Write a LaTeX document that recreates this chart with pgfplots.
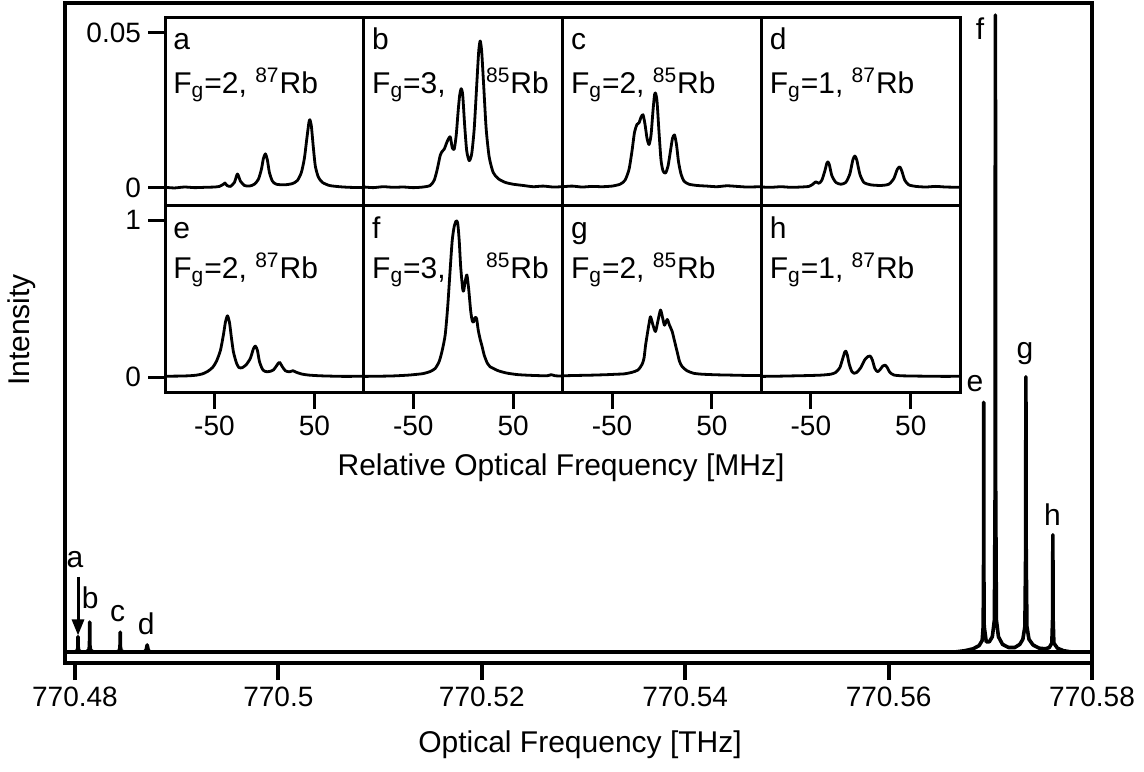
\documentclass[border=0pt]{standalone}
\usepackage{fontspec}
\setmainfont{Liberation Sans}
\usepackage{pgfplots}
\pgfplotsset{compat=1.18}
\usetikzlibrary{arrows.meta}

\pgfplotsset{
  inset/.style={
    scale only axis, width=99.4pt, height=93.5pt,
    xmin=-99.5, xmax=99.5,
    axis line style={line width=1.5pt},
    tick align=outside, major tick length=8.5pt,
    tick style={line width=1.5pt, black},
    xtick pos=left, ytick pos=left,
    scaled y ticks=false, scaled x ticks=false,
    axis background/.style={fill=white},
    ticklabel style={font=\fontsize{14}{16}\selectfont},
    no markers, cycle list={{black, solid}},
    every axis plot/.append style={line width=1.4pt, line join=round, smooth, tension=0.4},
  },
  toprow/.style={inset, ymin=-0.0055, ymax=0.0548, xtick=\empty},
  botrow/.style={inset, ymin=-0.0955, ymax=1.096, xtick={-50,50}, xticklabels={-50,50}},
}

\begin{document}
\begin{tikzpicture}
\useasboundingbox (0,0) rectangle (572pt,-385.5pt);

% ---------------- main axis ----------------
\begin{axis}[
  at={(32.5pt,-331.5pt)}, anchor=south west,
  scale only axis, width=513.5pt, height=330pt,
  xmin=-0.98, xmax=100, ymin=-0.0173, ymax=1.019,
  xtick={0,20,40,60,80,100},
  xticklabels={770.48,770.5,770.52,770.54,770.56,770.58},
  ytick=\empty, xtick pos=left, tick align=outside,
  major tick length=8.5pt,
  tick style={line width=2pt, black},
  axis line style={line width=2pt},
  ticklabel style={font=\fontsize{14}{16}\selectfont},
  no markers, cycle list={{black, solid}},
  every axis plot/.append style={line width=1.8pt, line join=round},
]
% baseline (offset from 770.48 THz, in GHz)
\addplot coordinates {(-0.98,0) (100,0)};
% a, b, c, d
\addplot coordinates {(0.0,0) (0.22,0.002) (0.28,0.006) (0.3,0.024) (0.32,0.006) (0.38,0.002) (0.6,0)};
\addplot coordinates {(1.1,0) (1.37,0.003) (1.43,0.010) (1.45,0.047) (1.47,0.010) (1.53,0.003) (1.8,0)};
\addplot coordinates {(4.1,0) (4.37,0.002) (4.43,0.008) (4.45,0.031) (4.47,0.008) (4.53,0.002) (4.8,0)};
\addplot coordinates {(6.8,0) (7.0,0.003) (7.1,0.011) (7.2,0.003) (7.4,0)};
% e, f, g, h
\addplot coordinates {
(86.5,0) (87.5,0.002) (88.3,0.005) (88.9,0.010) (89.2,0.018) (89.3,0.04) (89.34,0.15) (89.35,0.392) (89.36,0.15) (89.4,0.04)
(89.6,0.016) (89.9,0.016) (90.2,0.024) (90.4,0.05) (90.47,0.25) (90.5,1.0) (90.53,0.25) (90.6,0.05)
(90.8,0.024) (91.2,0.012) (91.8,0.007) (92.4,0.007) (92.9,0.012) (93.2,0.020) (93.4,0.04) (93.47,0.15) (93.5,0.432)
(93.53,0.15) (93.6,0.04) (93.8,0.020) (94.2,0.011) (94.8,0.006) (95.4,0.005) (95.8,0.007) (96.05,0.014) (96.12,0.05)
(96.15,0.184) (96.18,0.05) (96.25,0.014) (96.6,0.006) (97.2,0.002) (98,0)};
% annotations
\draw[line width=1.5pt, -{Triangle[length=8pt, width=6pt]}] (axis cs:0.3,0.118) -- (axis cs:0.3,0.026);
\begin{scope}[every node/.style={font=\fontsize{15}{18}\selectfont, inner sep=0pt}]
\node at (axis cs:0.0,0.145) {a};
\node at (axis cs:1.5,0.085) {b};
\node at (axis cs:4.2,0.061) {c};
\node at (axis cs:7.0,0.045) {d};
\node at (axis cs:88.5,0.422) {e};
\node at (axis cs:89.0,0.978) {f};
\node at (axis cs:93.4,0.469) {g};
\node at (axis cs:96.1,0.215) {h};
\end{scope}
\end{axis}

% ---------------- top row ----------------
\begin{axis}[toprow, at={(82.5pt,-102.5pt)}, anchor=south west,
  ytick={0,0.05}, yticklabels={0,0.05}]
\addplot coordinates {(-99,0.0002) (-90,0.0000) (-80,0.0003) (-70,0.0001) (-60,0.0002) (-50,0.0003) (-45,0.0005) (-41,0.0012) (-39.5,0.0016) (-37.5,0.0008) (-34,0.0005) (-30,0.0018) (-27,0.0045) (-24,0.0022) (-20,0.0008) (-15,0.0006) (-10,0.0012) (-6,0.0028) (-3,0.0060) (-1,0.0095) (1,0.0110) (3,0.0090) (5,0.0050) (8,0.0022) (12,0.0012) (20,0.0010) (28,0.0014) (33,0.0024) (37,0.0050) (40,0.0095) (42.5,0.0160) (44.5,0.0210) (45.5,0.0220) (47,0.0200) (49,0.0130) (51,0.0070) (54,0.0035) (58,0.0018) (65,0.0008) (75,0.0004) (85,0.0002) (99,0.0001)};
\node[anchor=base west, inner sep=0pt, font=\fontsize{15}{18}\selectfont] at (axis cs:-91.5,0.0445) {a};
\node[anchor=base west, inner sep=0pt, font=\fontsize{15}{18}\selectfont] at (axis cs:-91.5,0.0306) {F\textsubscript{g}=2, \textsuperscript{87}Rb};
\end{axis}

\begin{axis}[toprow, at={(181.9pt,-102.5pt)}, anchor=south west, ytick=\empty]
\addplot coordinates {(-99,0.0003) (-90,0.0001) (-80,0.0004) (-70,0.0002) (-60,0.0003) (-50,0.0001) (-40,0.0003) (-33,0.0008) (-29,0.0025) (-26,0.0060) (-23,0.0105) (-21,0.0118) (-19,0.0125) (-16,0.0150) (-13,0.0165) (-11,0.0130) (-9,0.0125) (-7,0.0170) (-5,0.0250) (-3.5,0.0300) (-2,0.0320) (-0.5,0.0300) (1.5,0.0200) (3.5,0.0120) (6,0.0088) (8.5,0.0110) (11,0.0190) (13.5,0.0330) (15.5,0.0440) (17,0.0474) (18.5,0.0440) (20.5,0.0330) (23,0.0190) (26,0.0100) (30,0.0050) (35,0.0030) (42,0.0018) (50,0.0012) (60,0.0008) (70,0.0004) (80,0.0006) (90,0.0003) (99,0.0004)};
\node[anchor=base west, inner sep=0pt, font=\fontsize{15}{18}\selectfont] at (axis cs:-91.5,0.0445) {b};
\node[anchor=base west, inner sep=0pt, font=\fontsize{15}{18}\selectfont] at (axis cs:-91.5,0.0306) {F\textsubscript{g}=3,\hspace{16pt} \textsuperscript{85}Rb};
\end{axis}

\begin{axis}[toprow, at={(281.3pt,-102.5pt)}, anchor=south west, ytick=\empty]
\addplot coordinates {(-99,0.0004) (-90,0.0006) (-80,0.0003) (-70,0.0005) (-60,0.0004) (-50,0.0006) (-42,0.0012) (-37,0.0025) (-33,0.0060) (-30,0.0120) (-27.5,0.0180) (-25,0.0205) (-23,0.0210) (-21,0.0228) (-19,0.0236) (-17,0.0205) (-15,0.0160) (-13,0.0140) (-11,0.0170) (-9,0.0250) (-7.5,0.0300) (-6.5,0.0306) (-5,0.0280) (-3,0.0180) (-1,0.0090) (1,0.0055) (3.5,0.0048) (6,0.0070) (8.5,0.0120) (10.5,0.0160) (12.5,0.0171) (14.5,0.0140) (16.5,0.0085) (19,0.0045) (22,0.0022) (27,0.0012) (35,0.0008) (45,0.0006) (55,0.0004) (65,0.0007) (75,0.0005) (85,0.0003) (99,0.0004)};
\node[anchor=base west, inner sep=0pt, font=\fontsize{15}{18}\selectfont] at (axis cs:-91.5,0.0445) {c};
\node[anchor=base west, inner sep=0pt, font=\fontsize{15}{18}\selectfont] at (axis cs:-91.5,0.0306) {F\textsubscript{g}=2, \textsuperscript{85}Rb};
\end{axis}

\begin{axis}[toprow, at={(380.7pt,-102.5pt)}, anchor=south west, ytick=\empty]
\addplot coordinates {(-99,0.0003) (-90,0.0002) (-80,0.0004) (-70,0.0002) (-60,0.0003) (-52,0.0005) (-48,0.0012) (-45,0.0020) (-42,0.0015) (-39,0.0025) (-36,0.0055) (-34,0.0080) (-33,0.0084) (-31.5,0.0075) (-29,0.0040) (-25,0.0018) (-20,0.0012) (-15,0.0018) (-11,0.0045) (-8,0.0090) (-6,0.0103) (-4,0.0090) (-1,0.0045) (3,0.0018) (10,0.0010) (20,0.0008) (28,0.0012) (33,0.0030) (36.5,0.0060) (39,0.0068) (41,0.0055) (44,0.0025) (48,0.0010) (55,0.0005) (65,0.0003) (75,0.0005) (85,0.0003) (99,0.0002)};
\node[anchor=base west, inner sep=0pt, font=\fontsize{15}{18}\selectfont] at (axis cs:-91.5,0.0445) {d};
\node[anchor=base west, inner sep=0pt, font=\fontsize{15}{18}\selectfont] at (axis cs:-91.5,0.0306) {F\textsubscript{g}=1, \textsuperscript{87}Rb};
\end{axis}

% ---------------- bottom row ----------------
\begin{axis}[botrow, at={(82.5pt,-196pt)}, anchor=south west,
  ytick={0,1}, yticklabels={0,1}]
\addplot coordinates {(-99,0.005) (-85,0.006) (-75,0.008) (-68,0.012) (-62,0.020) (-57,0.035) (-52,0.060) (-48,0.100) (-44,0.170) (-41,0.270) (-39,0.350) (-37,0.390) (-35,0.350) (-33,0.250) (-31,0.160) (-28,0.090) (-25.5,0.060) (-22,0.060) (-18,0.080) (-14,0.120) (-11,0.180) (-9,0.197) (-7,0.170) (-5,0.100) (-2,0.050) (1,0.035) (5,0.035) (9,0.045) (12,0.070) (15,0.094) (18,0.065) (21,0.040) (25,0.033) (28.5,0.040) (32,0.030) (38,0.018) (45,0.012) (55,0.008) (65,0.006) (80,0.004) (99,0.005)};
\node[anchor=base west, inner sep=0pt, font=\fontsize{15}{18}\selectfont] at (axis cs:-91.5,0.885) {e};
\node[anchor=base west, inner sep=0pt, font=\fontsize{15}{18}\selectfont] at (axis cs:-91.5,0.63) {F\textsubscript{g}=2, \textsuperscript{87}Rb};
\end{axis}

\begin{axis}[botrow, at={(181.9pt,-196pt)}, anchor=south west, ytick=\empty]
\addplot coordinates {(-99,0.004) (-85,0.005) (-70,0.007) (-55,0.012) (-45,0.018) (-40,0.022) (-33,0.035) (-28,0.055) (-24,0.100) (-21,0.170) (-18,0.270) (-15.5,0.450) (-13,0.690) (-11,0.870) (-9,0.960) (-7,0.995) (-5.5,0.980) (-4,0.870) (-2.5,0.700) (-0.5,0.560) (0.5,0.550) (2,0.610) (3.7,0.650) (5.5,0.560) (7.5,0.420) (9,0.360) (10.3,0.350) (12,0.380) (13.5,0.370) (15,0.300) (17,0.240) (18.7,0.200) (21,0.140) (24,0.090) (27,0.065) (30,0.055) (35,0.040) (43.7,0.025) (55,0.015) (70,0.010) (84,0.008) (88,0.015) (92,0.008) (99,0.006)};
\node[anchor=base west, inner sep=0pt, font=\fontsize{15}{18}\selectfont] at (axis cs:-91.5,0.885) {f};
\node[anchor=base west, inner sep=0pt, font=\fontsize{15}{18}\selectfont] at (axis cs:-91.5,0.63) {F\textsubscript{g}=3,\hspace{16pt} \textsuperscript{85}Rb};
\end{axis}

\begin{axis}[botrow, at={(281.3pt,-196pt)}, anchor=south west, ytick=\empty]
\addplot coordinates {(-99,0.008) (-85,0.010) (-70,0.012) (-55,0.015) (-45,0.018) (-38,0.020) (-30,0.030) (-24,0.045) (-20,0.080) (-18,0.120) (-16.5,0.200) (-14.8,0.270) (-13,0.340) (-11.5,0.384) (-9,0.330) (-6.5,0.290) (-4,0.360) (-1.5,0.427) (0.5,0.380) (2.5,0.330) (5.2,0.367) (7.5,0.330) (10.2,0.290) (12.5,0.230) (15.2,0.160) (17.5,0.100) (20.2,0.066) (25,0.040) (31.5,0.024) (40,0.018) (55,0.014) (70,0.012) (85,0.010) (99,0.010)};
\node[anchor=base west, inner sep=0pt, font=\fontsize{15}{18}\selectfont] at (axis cs:-91.5,0.885) {g};
\node[anchor=base west, inner sep=0pt, font=\fontsize{15}{18}\selectfont] at (axis cs:-91.5,0.63) {F\textsubscript{g}=2, \textsuperscript{85}Rb};
\end{axis}

\begin{axis}[botrow, at={(380.7pt,-196pt)}, anchor=south west, ytick=\empty]
\addplot coordinates {(-99,0.004) (-85,0.005) (-70,0.007) (-55,0.009) (-40,0.012) (-30,0.018) (-25,0.030) (-21,0.060) (-18,0.120) (-16,0.160) (-15,0.165) (-13.5,0.140) (-11.5,0.080) (-9,0.035) (-7,0.024) (-4,0.030) (0,0.060) (4,0.110) (7,0.130) (9.3,0.134) (11.5,0.110) (14,0.055) (16.7,0.034) (19,0.045) (22,0.070) (24.3,0.076) (26.5,0.060) (29,0.030) (33,0.013) (40,0.008) (55,0.006) (70,0.005) (85,0.004) (99,0.005)};
\node[anchor=base west, inner sep=0pt, font=\fontsize{15}{18}\selectfont] at (axis cs:-91.5,0.885) {h};
\node[anchor=base west, inner sep=0pt, font=\fontsize{15}{18}\selectfont] at (axis cs:-91.5,0.63) {F\textsubscript{g}=1, \textsuperscript{87}Rb};
\end{axis}

% ---------------- axis titles ----------------
\node[font=\fontsize{15}{18}\selectfont] at (280.5pt,-234pt) {Relative Optical Frequency [MHz]};
\node[font=\fontsize{15}{18}\selectfont] at (290pt,-372.5pt) {Optical Frequency [THz]};
\node[font=\fontsize{15}{18}\selectfont, rotate=90] at (11pt,-165pt) {Intensity};
\end{tikzpicture}
\end{document}
